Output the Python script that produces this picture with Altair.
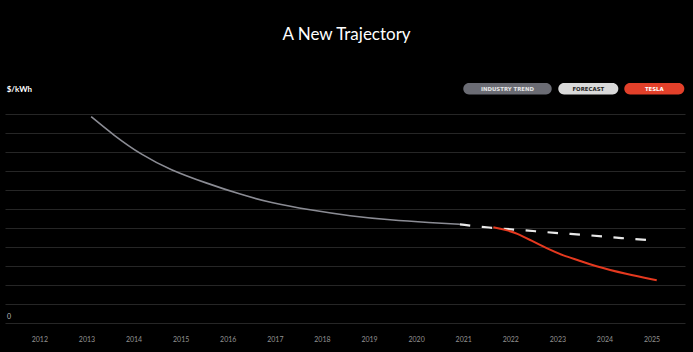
import altair as alt
import pandas as pd

# ---- data ----
industry_years = [2013.10, 2013.57, 2014.17, 2014.78, 2015.55, 2016.26, 2016.90, 2017.75, 2018.60, 2019.45, 2020.30, 2020.93]
industry_values = [217.2, 197.9, 176.8, 161.1, 147.1, 135.5, 126.6, 118.9, 112.6, 108.4, 105.6, 103.9]

forecast_years = [2020.93, 2021.53, 2022.24, 2022.95, 2023.66, 2024.37, 2025.04]
forecast_values = [103.9, 100.3, 97.9, 94.7, 92.6, 89.2, 87.1]

tesla_years = [2021.64, 2021.92, 2022.14, 2022.42, 2022.77, 2023.13, 2023.48, 2023.76, 2024.47, 2025.11]
tesla_values = [100.7, 97.9, 94.4, 87.4, 78.6, 70.8, 65.6, 60.3, 51.3, 45.0]

tick_years = list(range(2012, 2026))
grid_values = list(range(0, 221, 20))

legend_labels = ["INDUSTRY TREND", "FORECAST", "TESLA"]
title_text = "A New Trajectory"
unit_text = "$/kWh"

FONT = "Lato"
LEGEND_FONT = "DejaVu Sans"

industry = pd.DataFrame({"year": industry_years, "value": industry_values})
forecast = pd.DataFrame({"year": forecast_years, "value": forecast_values})
tesla = pd.DataFrame({"year": tesla_years, "value": tesla_values})

xscale = alt.Scale(domain=[2011.27, 2025.71], nice=False, zero=False)
yscale = alt.Scale(domain=[0, 220], nice=False)

xaxis = alt.Axis(values=tick_years, format="d", title=None, domain=False, ticks=False,
                 grid=False, labelColor="#939393", labelFontSize=7, labelFont=FONT,
                 labelPadding=12, labelFlush=False)
yaxis = alt.Axis(values=grid_values, title=None, domain=False, ticks=False, labels=False,
                 grid=True, gridColor="#262626", gridWidth=1, tickCount=12)

base_x = alt.X("year:Q", scale=xscale, axis=xaxis)
base_y = alt.Y("value:Q", scale=yscale, axis=yaxis)

industry_line = alt.Chart(industry).mark_line(
    color="#8b8c94", strokeWidth=1.6, interpolate="basis"
).encode(x=base_x, y=base_y)

forecast_line = alt.Chart(forecast).mark_line(
    color="#e8e8e8", strokeWidth=2.2, strokeDash=[10.5, 11.5], interpolate="basis"
).encode(x=base_x, y=base_y)

tesla_line = alt.Chart(tesla).mark_line(
    color="#e5391f", strokeWidth=2, interpolate="basis"
).encode(x=base_x, y=base_y)

one = pd.DataFrame({"k": [0]})


def label(text, x, y, size, color, weight="normal", align="center", font=FONT):
    return alt.Chart(one).mark_text(
        font=font, fontSize=size, color=color, fontWeight=weight, align=align, baseline="middle"
    ).encode(x=alt.value(x), y=alt.value(y), text=alt.value(text))


def pill(text, x0, x1, fill, tcolor):
    r = alt.Chart(one).mark_rect(cornerRadius=5.7, color=fill).encode(
        x=alt.value(x0), x2=alt.value(x1), y=alt.value(-31), y2=alt.value(-19.6)
    )
    t = label(text, (x0 + x1) / 2, -25.1, 5.4, tcolor, weight="bold", font=LEGEND_FONT)
    return r + t


title = label(title_text, 341.5, -79, 17, "#ffffff")
unit = label(unit_text, 1.7, -24.5, 8, "#ffffff", weight="bold", align="left")
zero = label("0", 4, 203, 7, "#bdbdbd")

legend = (
    pill(legend_labels[0], 458.3, 546.7, "#6b6c74", "#e6e6e6")
    + pill(legend_labels[1], 553.3, 613.3, "#d9d9d9", "#1e1e1e")
    + pill(legend_labels[2], 619.3, 679.3, "#e2402a", "#ffffff")
)

chart = alt.layer(
    industry_line, forecast_line, tesla_line, title, unit, zero, legend
).properties(
    width=680, height=209,
    padding={"left": 5, "top": 114, "right": 8, "bottom": 29},
    autosize="none",
    background="#000000",
).configure_view(stroke=None)

chart.save("out.html", embed_options={"renderer": "svg", "actions": False})
